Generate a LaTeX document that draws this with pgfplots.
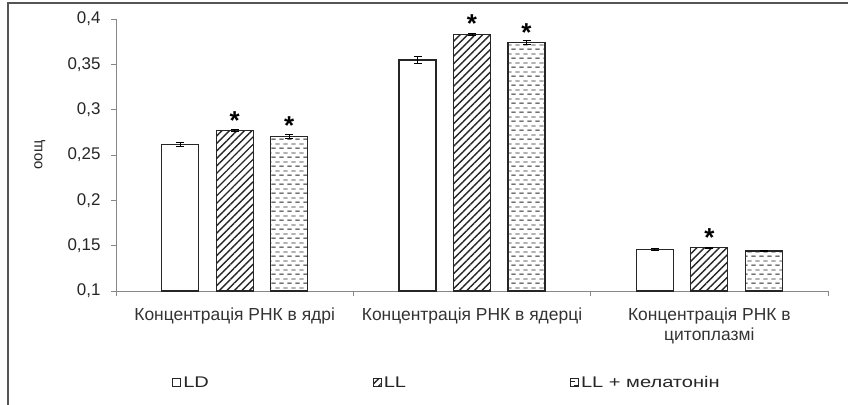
\documentclass[border=0pt]{standalone}
\usepackage{fontspec}
\setmainfont{Liberation Sans}
\usepackage{pgfplots}
\pgfplotsset{compat=1.18}
\usetikzlibrary{patterns,patterns.meta}
\pgfdeclarepatternformonly{dashrows}{\pgfpointorigin}{\pgfqpoint{8pt}{8.6pt}}{\pgfqpoint{8pt}{8.6pt}}{%
  \pgfsetlinewidth{0.9pt}%
  \pgfpathmoveto{\pgfqpoint{0.3pt}{2pt}}\pgfpathlineto{\pgfqpoint{4.6pt}{2pt}}%
  \pgfpathmoveto{\pgfqpoint{4.3pt}{6.3pt}}\pgfpathlineto{\pgfqpoint{8pt}{6.3pt}}%
  \pgfpathmoveto{\pgfqpoint{0pt}{6.3pt}}\pgfpathlineto{\pgfqpoint{0.6pt}{6.3pt}}%
  \pgfusepath{stroke}}
\definecolor{axgray}{HTML}{888888}
\definecolor{framegray}{HTML}{555555}
\newcommand{\lgd}[1]{\scalebox{1.3}[1]{#1}}
\begin{document}
\begin{tikzpicture}
\useasboundingbox (-116bp,-114bp) rectangle (732bp,291bp);
\draw[framegray, line width=1.3bp] (-108bp,-114bp) -- (-108bp,288bp) -- (732bp,288bp);
\begin{axis}[
  at={(0,0)}, anchor=south west,
  scale only axis, width=712bp, height=272bp,
  xmin=-0.5, xmax=2.5, ymin=0.1, ymax=0.4,
  axis lines*=left,
  axis line style={axgray, line width=0.8bp},
  ybar=17.5bp, bar width=37bp,
  tick align=outside,
  tick style={axgray, line width=0.8bp},
  major tick length=5bp,
  xtick={-0.5,0.5,1.5,2.5}, xticklabels={},
  extra x ticks={0,1,2},
  extra x tick labels={Концентрація РНК в ядрі, Концентрація РНК в ядерці, {Концентрація РНК в\\цитоплазмі}},
  extra x tick style={major tick length=0pt, xticklabel style={align=center, font=\fontsize{17.5}{20}\selectfont, text=black!80, yshift=-13bp}},
  ytick={0.1,0.15,0.2,0.25,0.3,0.35,0.4},
  yticklabel style={/pgf/number format/.cd, use comma, fixed, precision=2, /tikz/.cd, font=\fontsize{17}{19}\selectfont, text=black!85, xshift=-7bp},
  /pgf/number format/assume math mode=true,
  ylabel={оощ},
  ylabel style={at={(axis description cs:-0.107,0.5)}, anchor=center, font=\fontsize{15}{18}\selectfont, text=black!85},
  legend columns=3,
  legend style={at={(0.465,-0.338)}, anchor=center, draw=none, font=\fontsize{15.5}{18}\selectfont, text=black!85,
    /tikz/every odd column/.append style={column sep=0bp},
    /tikz/every even column/.append style={column sep=162bp}},
  legend image code/.code={\draw[#1, line width=0.9bp] (0bp,-4bp) rectangle (8bp,4bp);},
  error bars/y dir=both, error bars/y explicit,
  error bars/error bar style={black, line width=0.8bp},
  error bars/error mark options={rotate=90, mark size=4bp, black, line width=0.8bp},
  nodes near coords style={anchor=base, yshift=1.5bp, inner sep=0pt, font=\fontsize{26}{26}\bfseries\selectfont},
]
\addplot[draw=black!85, line width=1.2bp, fill=white] coordinates {
  (0,0.2618) +- (0,0.0025)
  (1,0.3548) +- (0,0.0035)
  (2,0.1460) +- (0,0.0010)
};
\addplot[draw=black!85, line width=1.2bp, pattern={Lines[angle=45,distance=5.3bp,line width=1.4bp]}, pattern color=black!85,
  nodes near coords, point meta=explicit symbolic] coordinates {
  (0,0.2768) +- (0,0.0010) [*]
  (1,0.3830) +- (0,0.0015) [*]
  (2,0.1478) +- (0,0.0008) [*]
};
\addplot[draw=black!85, line width=1.2bp, pattern=dashrows, pattern color=black!85,
  nodes near coords, point meta=explicit symbolic] coordinates {
  (0,0.2706) +- (0,0.0018) [*]
  (1,0.3740) +- (0,0.0022) [*]
  (2,0.1441) +- (0,0.0008) []
};
\legend{\lgd{LD}, \lgd{LL}, \lgd{LL + мелатонін}}
\end{axis}
\end{tikzpicture}
\end{document}
